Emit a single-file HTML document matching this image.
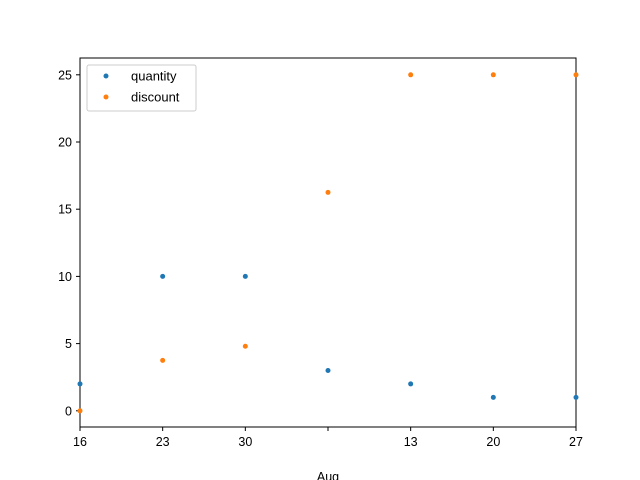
<!DOCTYPE html>
<html><head><meta charset="utf-8"><style>body{margin:0;background:#fff}svg{display:block;font-family:"Liberation Sans","DejaVu Sans",sans-serif}</style></head>
<body>
<svg id="c" width="640" height="480"></svg>
<script>
const categories=["16","23","30","","13","20","27"];
const quantity=[2,10,10,3,2,1,1];
const discount=[0,3.75,4.8,16.25,25,25,25];
const yTicks=[0,5,10,15,20,25];
const NS="http://www.w3.org/2000/svg";
const svg=document.getElementById('c');
const L=80,R=576,T=58,B=427;
const x=i=>L+i*(R-L)/(categories.length-1);
const y=v=>410.8-v*13.44;
function mk(t,a,p){const e=document.createElementNS(NS,t);for(const k in a)e.setAttribute(k,a[k]);(p||svg).appendChild(e);return e;}
const frame=mk('rect',{x:L,y:T,width:R-L,height:B-T,fill:'none',stroke:'#000','stroke-width':1});


yTicks.forEach(v=>{
 const l=mk('line',{x1:L-4,x2:L,y1:y(v),y2:y(v),stroke:'#000'});
 
 
 const t=mk('text',{x:L-8,y:y(v)+4.5,'text-anchor':'end','font-size':12.5});t.textContent=v;
 
 
});
categories.forEach((c,i)=>{
 const l=mk('line',{x1:x(i),x2:x(i),y1:B,y2:B+4,stroke:'#000'});
 
 
 const t=mk('text',{x:x(i),y:B+19,'text-anchor':'middle','font-size':12.5});t.textContent=c;
 
 
});
const m=mk('text',{x:328,y:481,'text-anchor':'middle','font-size':12.5});m.textContent="Aug";


[[quantity,'#1f77b4','quantity-point'],[discount,'#ff7f0e','discount-point']].forEach(([s,col,n])=>{
 s.forEach((v,i)=>{const p=mk('circle',{cx:x(i),cy:y(v),r:2.5,fill:col});
 
 });
});
</script>
<svg width="640" height="480" style="position:absolute;left:0;top:0">
<g font-family="Liberation Sans, sans-serif" font-size="13">
<rect x="87" y="65" width="109" height="46" rx="2" fill="#fff" stroke="#ccc"/>
<circle cx="106" cy="76" r="2.5" fill="#1f77b4"/><text x="131" y="80.5">quantity</text>
<circle cx="106" cy="97" r="2.5" fill="#ff7f0e"/><text x="131" y="101.5">discount</text>
</g></svg>
</body></html>
